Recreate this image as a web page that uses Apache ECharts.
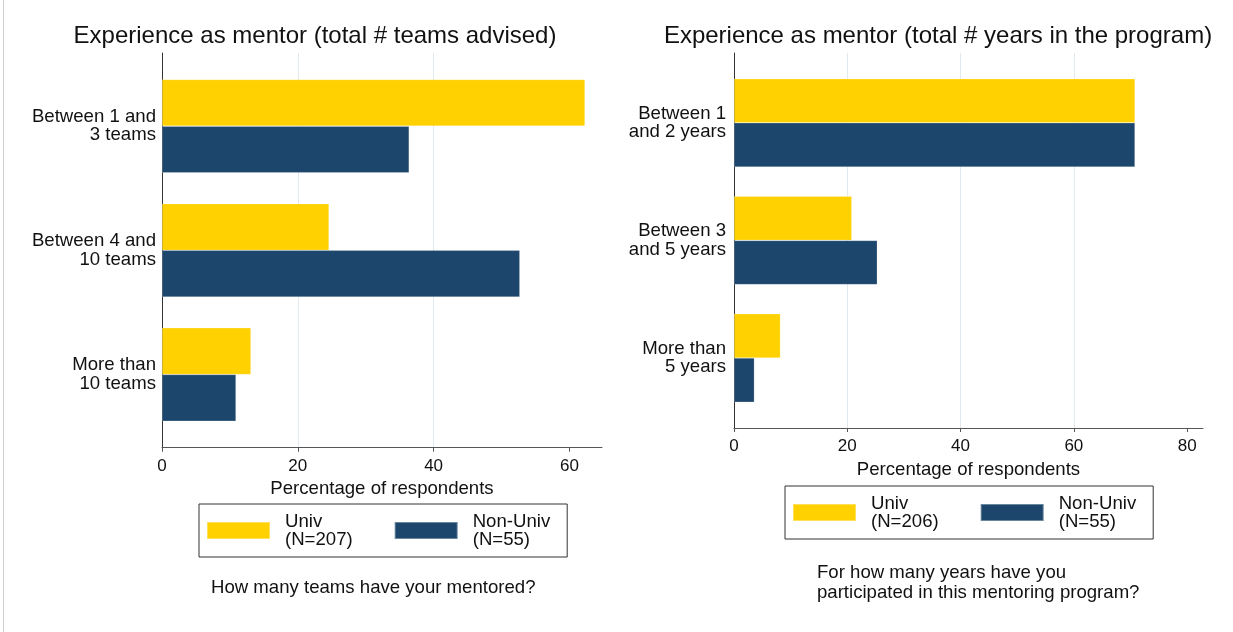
<!DOCTYPE html>
<html>
<head>
<meta charset="utf-8">
<script src="https://cdn.jsdelivr.net/npm/echarts@6/dist/echarts.min.js"></script>
<style>
  html, body { margin: 0; padding: 0; background: #fff; }
  #main { width: 1233px; height: 632px; }
</style>
</head>
<body>
<div id="main"></div>
<script>
// 左图：指导过的团队数
const leftCats = ['Between 1 and\n3 teams', 'Between 4 and\n10 teams', 'More than\n10 teams'];
const leftUniv = [62.3, 24.6, 13.1];
const leftNonUniv = [36.4, 52.7, 10.9];
const leftTicks = [0, 20, 40, 60];

// 右图：参与项目的年数
const rightCats = ['Between 1\nand 2 years', 'Between 3\nand 5 years', 'More than\n5 years'];
const rightUniv = [70.8, 20.8, 8.2];
const rightNonUniv = [70.8, 25.3, 3.6];
const rightTicks = [0, 20, 40, 60, 80];

const leftNames = ['Univ\n(N=207)', 'Non-Univ\n(N=55)'];
const rightNames = ['Univ\n(N=206)', 'Non-Univ\n(N=55)'];

const FONT = '"Liberation Sans", Arial, Helvetica, sans-serif';
const FS = 18.6;
const YELLOW = '#FFD100';
const BLUE = '#1D466C';

const chart = echarts.init(document.getElementById('main'));

function barAxis(grid, max) {
  return { type: 'value', gridIndex: grid, min: 0, max: max, show: false };
}
function tickAxis(grid, max, ticks) {
  return {
    type: 'value', gridIndex: grid, min: 0, max: max, interval: 20,
    name: 'Percentage of respondents', nameLocation: 'middle', nameGap: 29,
    nameTextStyle: { fontFamily: FONT, fontSize: FS, color: '#111' },
    axisLine: { show: true, onZero: false, lineStyle: { color: '#555', width: 1 } },
    axisTick: { show: true, length: 4, customValues: ticks, lineStyle: { color: '#555' } },
    axisLabel: { customValues: ticks, margin: 10, fontFamily: FONT, fontSize: 17, color: '#111' },
    splitLine: { show: true, showMinLine: false, showMaxLine: false, lineStyle: { color: '#e0e9ee', width: 1 } }
  };
}
function catAxis(grid, cats, margin) {
  return {
    type: 'category', gridIndex: grid, data: cats, inverse: true,
    axisLine: { show: false }, axisTick: { show: false },
    axisLabel: { margin: margin, fontFamily: FONT, fontSize: FS, lineHeight: 18.5, color: '#111' }
  };
}
function lineAxis(grid) {
  return {
    type: 'value', gridIndex: grid, min: 0, max: 1,
    axisLine: { show: true, onZero: false, lineStyle: { color: '#333', width: 1 } },
    axisTick: { show: false }, axisLabel: { show: false }, splitLine: { show: false }
  };
}
function legendBox(left, top, names) {
  return {
    left: left, top: top, orient: 'horizontal', data: names, icon: 'rect',
    itemWidth: 63, itemHeight: 17, itemGap: 41,
    padding: [8, 17, 8, 7], borderColor: '#333', borderWidth: 1,
    selectedMode: false,
    textStyle: { fontFamily: FONT, fontSize: FS, lineHeight: 18, color: '#111', padding: [0, 0, 0, 10] }
  };
}
function bar(name, x, y, data, color) {
  return {
    type: 'bar', name: name, xAxisIndex: x, yAxisIndex: y, data: data,
    barWidth: '37.6%', barGap: '0%',
    itemStyle: { color: color, borderColor: 'rgba(255,255,255,0.35)', borderWidth: 0.6 },
    emphasis: { disabled: true }
  };
}

const option = {
  backgroundColor: '#fff',
  animation: false,
  textStyle: { fontFamily: FONT },
  grid: [
    { left: 162, top: 64, width: 440, height: 372.6, outerBoundsMode: 'none' },
    { left: 162, top: 53, width: 440, height: 394.7, outerBoundsMode: 'none' },
    { left: 734, top: 64, width: 469, height: 352.8, outerBoundsMode: 'none' },
    { left: 734, top: 53, width: 469, height: 375, outerBoundsMode: 'none' }
  ],
  xAxis: [
    barAxis(0, 64.8),
    tickAxis(1, 64.8, leftTicks),
    barAxis(2, 82.8),
    tickAxis(3, 82.8, rightTicks)
  ],
  yAxis: [
    catAxis(0, leftCats, 6),
    lineAxis(1),
    catAxis(2, rightCats, 8),
    lineAxis(3)
  ],
  legend: [
    legendBox(199, 504, leftNames),
    legendBox(785, 486, rightNames)
  ],
  series: [
    bar(leftNames[0], 0, 0, leftUniv, YELLOW),
    bar(leftNames[1], 0, 0, leftNonUniv, BLUE),
    bar(rightNames[0], 2, 2, rightUniv, YELLOW),
    bar(rightNames[1], 2, 2, rightNonUniv, BLUE)
  ],
  graphic: [
    { type: 'line', shape: { x1: 3.5, y1: 0, x2: 3.5, y2: 632 }, style: { stroke: '#cfcfcf', lineWidth: 1 } },
    { type: 'text', x: 315, y: 36,
      style: { text: 'Experience as mentor (total # teams advised)', font: '24px ' + FONT, fill: '#111', textAlign: 'center', textVerticalAlign: 'middle' } },
    { type: 'text', x: 938, y: 36,
      style: { text: 'Experience as mentor (total # years in the program)', font: '24px ' + FONT, fill: '#111', textAlign: 'center', textVerticalAlign: 'middle' } },
    { type: 'text', x: 211, y: 588,
      style: { text: 'How many teams have your mentored?', font: FS + 'px ' + FONT, fill: '#111', textAlign: 'left', textVerticalAlign: 'middle' } },
    { type: 'text', x: 817, y: 583,
      style: { text: 'For how many years have you\nparticipated in this mentoring program?', font: FS + 'px ' + FONT, lineHeight: 20, fill: '#111', textAlign: 'left', textVerticalAlign: 'middle' } }
  ]
};

chart.setOption(option);
</script>
</body>
</html>
